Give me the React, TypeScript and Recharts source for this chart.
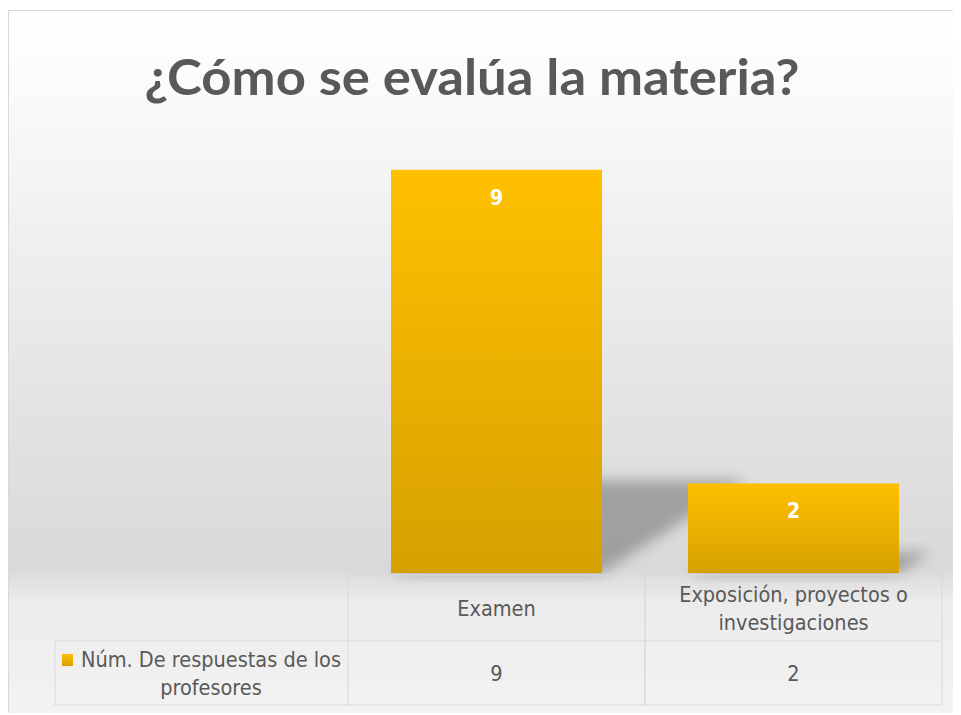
import React from "react";
import { BarChart, Bar, XAxis, YAxis, LabelList } from "recharts";

const categories = ["Examen", "Exposición, proyectos o investigaciones"];
const categoryLines = [["Examen"], ["Exposición, proyectos o", "investigaciones"]];
const values = [9, 2];
const seriesName = "Núm. De respuestas de los profesores";
const seriesLines = ["Núm. De respuestas de los", "profesores"];
const title = "¿Cómo se evalúa la materia?";

const data = categories.map((name, i) => ({ name, value: values[i] }));

// layout (chart coordinates)
const W = 952;
const H = 704;
const PLOT_LEFT = 339;
const PLOT_RIGHT = 933;
const PLOT_BOTTOM = 562;
const BAND = (PLOT_RIGHT - PLOT_LEFT) / categories.length;
const HEAD_TOP = PLOT_BOTTOM + 2;
const ROW_TOP = 630;
const ROW_BOTTOM = 694;
const LEGEND_LEFT = 46;
const LINE = "#d9d9d9";
const TEXT = "#595959";
const FONT = "'DejaVu Sans Condensed', 'DejaVu Sans', sans-serif";
const FS = 21.5;

const TableTick = (props: any) => {
  const { x, index } = props;
  const left = x - BAND / 2;
  const right = x + BAND / 2;
  const lines = categoryLines[index] || [];
  const headMid = (HEAD_TOP + ROW_TOP) / 2;
  const rowMid = (ROW_TOP + ROW_BOTTOM) / 2;
  return (
    <g>
      <line x1={left} y1={HEAD_TOP} x2={right} y2={HEAD_TOP} stroke={LINE} />
      <line x1={left} y1={HEAD_TOP} x2={left} y2={ROW_BOTTOM} stroke={LINE} />
      <line x1={right} y1={HEAD_TOP} x2={right} y2={ROW_BOTTOM} stroke={LINE} />
      <line x1={left} y1={ROW_TOP} x2={right} y2={ROW_TOP} stroke={LINE} />
      <line x1={left} y1={ROW_BOTTOM} x2={right} y2={ROW_BOTTOM} stroke={LINE} />
      {lines.map((t, i) => (
        <text
          key={i}
          x={x}
          y={headMid + (i - (lines.length - 1) / 2) * 28}
          dy="0.35em"
          textAnchor="middle"
          fill={TEXT}
          fontSize={FS}
          fontFamily={FONT}
        >
          {t}
        </text>
      ))}
      <text x={x} y={rowMid} dy="0.35em" textAnchor="middle" fill={TEXT} fontSize={FS} fontFamily={FONT}>
        {values[index]}
      </text>
      {index === 0 && (
        <g>
          <line x1={LEGEND_LEFT} y1={ROW_TOP} x2={left} y2={ROW_TOP} stroke={LINE} />
          <line x1={LEGEND_LEFT} y1={ROW_BOTTOM} x2={left} y2={ROW_BOTTOM} stroke={LINE} />
          <line x1={LEGEND_LEFT} y1={ROW_TOP} x2={LEGEND_LEFT} y2={ROW_BOTTOM} stroke={LINE} />
          <rect x={53} y={643} width={11} height={12} fill="url(#gold)" />
          {seriesLines.map((t, i) => (
            <text
              key={i}
              x={202}
              y={rowMid + (i - 0.5) * 28}
              dy="0.35em"
              textAnchor="middle"
              fill={TEXT}
              fontSize={FS}
              fontFamily={FONT}
            >
              {t}
            </text>
          ))}
        </g>
      )}
    </g>
  );
};

const ShadowBar = (props: any) => {
  const { x, y, width, height } = props;
  const bottom = y + height;
  const sh = height * 0.23;
  const dx = height * 0.36;
  return (
    <g>
      <polygon
        points={`${x},${bottom} ${x + width},${bottom} ${x + width + dx},${bottom - sh} ${x + dx},${bottom - sh}`}
        fill="#6f6f6f"
        opacity={0.55}
        filter="url(#blur)"
      />
      <rect x={x} y={y} width={width} height={height} fill="url(#gold)" />
    </g>
  );
};

export default function App() {
  return (
    <div
      style={{
        position: "relative",
        top: 2,
        width: W,
        height: H,
        borderTop: "1px solid #d9d9d9",
        borderLeft: "1px solid #d9d9d9",
        background:
          "linear-gradient(to bottom, #ffffff 0%, #fbfbfb 10%, #e6e6e6 50%, #d9d9d9 79%, #ececec 84%, #f3f3f3 100%)",
      }}
    >
      <svg width={W} height={110} style={{ position: "absolute", left: 0, top: 0 }}>
        <text
          x={463}
          y={84}
          textAnchor="middle"
          fill={TEXT}
          fontSize={50}
          fontWeight="bold"
          fontFamily="Lato, 'DejaVu Sans', sans-serif"
          textLength={655}
          lengthAdjust="spacingAndGlyphs"
        >
          {title}
        </text>
      </svg>
      <BarChart
        width={W}
        height={H}
        data={data}
        margin={{ top: 114, right: W - PLOT_RIGHT, left: PLOT_LEFT, bottom: 0 }}
        style={{ position: "absolute", left: 0, top: 0 }}
      >
        <defs>
          <linearGradient id="gold" x1="0" y1="0" x2="0" y2="1">
            <stop offset="0%" stopColor="#ffc000" />
            <stop offset="100%" stopColor="#d6a100" />
          </linearGradient>
          <filter id="blur" x="-30%" y="-50%" width="160%" height="200%">
            <feGaussianBlur stdDeviation="7" />
          </filter>
        </defs>
        <XAxis
          dataKey="name"
          height={H - PLOT_BOTTOM}
          axisLine={false}
          tickLine={false}
          interval={0}
          tick={<TableTick />}
        />
        <YAxis hide domain={[0, 10]} />
        <Bar dataKey="value" name={seriesName} barSize={211} shape={<ShadowBar />} isAnimationActive={false}>
          <LabelList
            dataKey="value"
            position="insideTop"
            offset={20}
            fill="#ffffff"
            fontSize={21}
            fontWeight="bold"
            fontFamily={FONT}
          />
        </Bar>
      </BarChart>
    </div>
  );
}
